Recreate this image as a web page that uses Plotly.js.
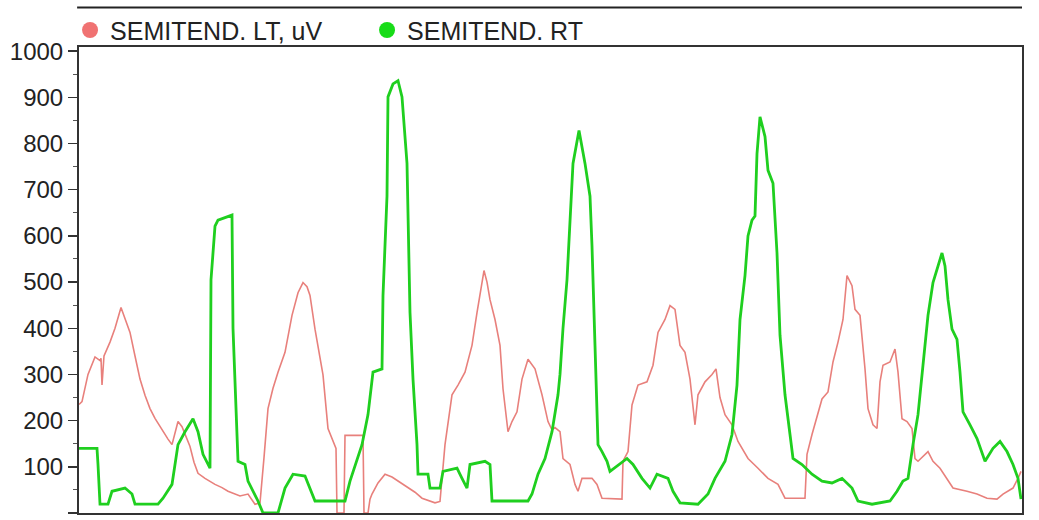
<!DOCTYPE html>
<html>
<head>
<meta charset="utf-8">
<script src="https://cdn.plot.ly/plotly-3.0.1.min.js"></script>
<style>html,body{margin:0;padding:0;background:#fff;}#chart{width:1039px;height:520px;}</style>
</head>
<body>
<div id="chart"></div>
<script>
// Time samples (arbitrary units) and EMG amplitudes (uV)
var ltTime = [0,3,9,16,21,22,23,25,31,36,42,46,51,56,61,66,71,76,84,89,93,99,103,107,111,115,119,126,136,143,149,161,169,176,181,185,189,194,199,206,213,219,224,228,231,236,240,244,249,254,257,258,265,266,284,285,289,291,293,299,306,313,319,329,336,343,356,361,366,373,379,386,393,398,403,405,408,411,416,421,424,429,433,438,443,449,456,463,469,473,476,481,484,491,496,499,503,513,518,523,543,544,549,553,559,568,574,579,586,591,596,601,606,611,616,619,626,633,637,641,646,653,659,669,679,689,699,706,726,728,733,743,749,754,759,764,768,773,776,781,786,789,794,798,801,804,811,816,819,823,828,833,836,839,849,854,861,868,874,888,898,908,918,924,934,939,942];
var ltValue = [235,241,300,338,330,335,277,340,370,400,445,420,391,340,290,255,226,205,176,160,148,198,187,165,144,110,86,75,62,55,47,37,41,19,22,120,226,270,305,348,428,477,499,490,471,398,350,299,183,155,140,0,0,168,168,0,0,30,41,65,84,78,69,54,45,32,22,25,148,256,277,305,363,434,499,525,500,462,419,363,269,176,198,219,290,333,312,256,198,180,185,176,118,105,62,47,75,75,62,32,30,112,133,234,277,284,320,391,419,449,441,363,348,290,191,256,284,300,312,250,213,191,155,118,97,75,62,32,32,127,170,247,262,327,370,419,514,492,441,428,312,226,191,183,284,320,327,355,305,204,198,183,118,112,133,112,97,75,54,47,41,32,30,41,54,75,90];

var rtTime = [0,3,18,19,21,29,33,46,53,56,79,84,93,99,106,114,119,124,131,132,136,139,153,154,157,159,166,169,179,184,199,206,214,226,236,266,271,283,289,294,303,304,308,309,314,319,323,324,326,328,329,331,334,338,339,349,351,361,364,378,383,388,391,406,411,413,449,453,459,466,473,479,481,484,488,491,494,500,506,511,513,516,518,519,523,528,531,538,548,554,563,571,578,589,594,601,619,629,636,646,653,658,661,666,669,673,676,678,681,686,689,694,698,701,706,711,714,723,733,743,753,763,773,779,793,811,818,824,829,834,839,844,849,854,859,863,866,869,873,878,881,884,891,898,906,914,921,928,934,939,942];
var rtValue = [140,140,140,105,19,19,47,54,41,19,19,32,62,148,176,204,176,127,97,505,621,634,645,400,200,112,105,69,26,0,0,54,84,80,26,26,69,148,213,305,312,471,686,901,929,936,901,870,820,757,649,434,290,148,84,84,54,54,90,97,75,54,105,112,105,26,26,41,84,118,176,256,300,400,505,649,757,828,757,686,578,363,219,148,133,112,90,101,118,105,75,54,84,75,47,22,19,41,75,112,170,277,419,514,600,634,643,778,858,815,742,714,563,385,256,170,118,105,84,69,65,75,54,26,19,26,47,69,75,148,213,320,428,499,535,563,535,462,398,376,305,219,191,161,112,140,155,133,105,75,30];

var ltName = "SEMITEND. LT, uV";
var rtName = "SEMITEND. RT";
var yTicks = [0,100,200,300,400,500,600,700,800,900,1000];

var ltColor = "#e8807c";
var rtColor = "#1fcf1f";

var traces = [
  {x: ltTime, y: ltValue, type: "scatter", mode: "lines", name: ltName, showlegend: false,
   line: {color: ltColor, width: 1.6}, hoverinfo: "skip"},
  {x: rtTime, y: rtValue, type: "scatter", mode: "lines", name: rtName, showlegend: false,
   line: {color: rtColor, width: 2.8}, hoverinfo: "skip"},
  {x: [null], y: [null], type: "scatter", mode: "markers", name: ltName,
   marker: {color: "#f07272", size: 16}},
  {x: [null], y: [null], type: "scatter", mode: "markers", name: rtName,
   marker: {color: "#18dc18", size: 16}}
];

var layout = {
  width: 1039, height: 520,
  margin: {l: 79, r: 17, t: 43, b: 7, pad: 0},
  paper_bgcolor: "#ffffff", plot_bgcolor: "#ffffff",
  font: {family: "Liberation Sans, Arial, sans-serif", color: "#222", size: 24},
  showlegend: true,
  legend: {orientation: "h", x: -0.0095, xanchor: "left", y: 1.036, yanchor: "middle",
           font: {size: 25, color: "#222"}, entrywidth: 252, entrywidthmode: "pixels",
           bgcolor: "rgba(0,0,0,0)", borderwidth: 0, traceorder: "normal"},
  xaxis: {range: [0, 943], showticklabels: false, ticks: "", showgrid: false, zeroline: false,
          showline: true, linecolor: "#333", linewidth: 2, mirror: true, fixedrange: true},
  yaxis: {range: [0, 1009], tickvals: yTicks, ticktext: yTicks.map(String), ticks: "outside",
          ticklen: 9, tickwidth: 1.5, tickcolor: "#333",
          minor: {tickvals: [50,150,250,350,450,550,650,750,850,950], ticks: "outside", ticklen: 4, tickcolor: "#555", tickwidth: 1},
          showgrid: false, zeroline: false, showline: true, linecolor: "#333", linewidth: 2, mirror: true,
          tickfont: {size: 24, color: "#222"}, fixedrange: true},
  shapes: [
    {type: "line", xref: "paper", yref: "paper", x0: -0.002, x1: 1.0, y0: 1.085, y1: 1.085,
     line: {color: "#222", width: 2}}
  ]
};

Plotly.newPlot("chart", traces, layout, {displayModeBar: false, staticPlot: true});
</script>
</body>
</html>
